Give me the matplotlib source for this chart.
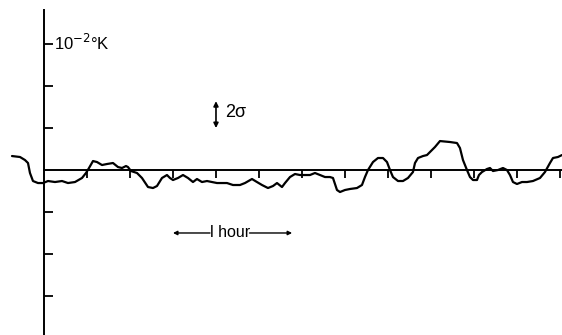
import matplotlib
matplotlib.use("Agg")
import matplotlib.pyplot as plt

plt.rcParams["font.family"] = ["Liberation Sans", "DejaVu Sans"]

# trace: time in tick intervals, deviation in tick units
t = [-0.744, -0.558, -0.442, -0.372, -0.326, -0.256, -0.140, -0.023, 0.093, 0.256,
     0.419, 0.558, 0.721, 0.884, 0.977, 1.047, 1.140, 1.233, 1.349, 1.465,
     1.605, 1.721, 1.814, 1.907, 1.953, 2.023, 2.163, 2.279, 2.419, 2.535,
     2.628, 2.744, 2.860, 2.930, 3.000, 3.116, 3.233, 3.349, 3.465, 3.558,
     3.674, 3.791, 3.907, 4.023, 4.256, 4.395, 4.558, 4.674, 4.837, 4.953,
     5.070, 5.209, 5.326, 5.419, 5.535, 5.605, 5.721, 5.837, 5.953, 6.186,
     6.302, 6.419, 6.535, 6.651, 6.721, 6.814, 6.884, 7.000, 7.116, 7.279,
     7.395, 7.465, 7.535, 7.651, 7.767, 7.884, 7.977, 8.047, 8.116, 8.233,
     8.349, 8.465, 8.581, 8.628, 8.698, 8.814, 8.907, 8.977, 9.093, 9.209,
     9.442, 9.605, 9.674, 9.744, 9.837, 9.907, 9.977, 10.070, 10.116, 10.186,
     10.302, 10.372, 10.442, 10.558, 10.674, 10.767, 10.837, 10.907, 11.000, 11.116,
     11.233, 11.372, 11.535, 11.651, 11.767, 11.837, 11.953, 12.047]
dT = [0.333, 0.310, 0.238, 0.167, -0.071, -0.262, -0.310, -0.310, -0.262, -0.286,
      -0.262, -0.310, -0.286, -0.190, -0.071, 0.048, 0.214, 0.190, 0.119, 0.143,
      0.167, 0.071, 0.048, 0.095, 0.071, -0.024, -0.071, -0.190, -0.405, -0.429,
      -0.381, -0.190, -0.119, -0.190, -0.238, -0.190, -0.119, -0.190, -0.286, -0.214,
      -0.286, -0.262, -0.286, -0.310, -0.310, -0.357, -0.357, -0.310, -0.214, -0.286,
      -0.357, -0.429, -0.381, -0.310, -0.405, -0.310, -0.167, -0.095, -0.119, -0.119,
      -0.071, -0.119, -0.167, -0.167, -0.190, -0.476, -0.524, -0.476, -0.452, -0.429,
      -0.357, -0.167, 0.000, 0.190, 0.286, 0.286, 0.190, 0.000, -0.167, -0.262,
      -0.262, -0.190, -0.048, 0.167, 0.286, 0.333, 0.357, 0.429, 0.548, 0.690,
      0.667, 0.643, 0.524, 0.238, 0.000, -0.167, -0.238, -0.238, -0.119, -0.048,
      0.024, 0.048, -0.024, 0.000, 0.048, 0.000, -0.119, -0.286, -0.333, -0.286,
      -0.286, -0.262, -0.190, -0.048, 0.167, 0.286, 0.310, 0.357]

x_ticks = list(range(1, 13))
y_ticks = [-3, -2, -1, 1, 2, 3]
unit_label = "10$^{-2}$°K"
sigma_label = "2σ"
hour_label = "l hour"

fig = plt.figure(figsize=(5.62, 3.35), dpi=100)
ax = fig.add_axes([0, 0, 1, 1])
ax.set_xlim(-1.023, 12.047)
ax.set_ylim(-3.93, 4.05)

ax.plot(t, dT, color="black", lw=1.6, solid_joinstyle="round", solid_capstyle="round")

# axes drawn as spines crossing at the origin
for side in ["top", "right"]:
    ax.spines[side].set_visible(False)
ax.spines["left"].set_position(("data", 0))
ax.spines["bottom"].set_position(("data", 0))
ax.spines["left"].set_bounds(-3.93, 3.81)
ax.spines["bottom"].set_bounds(0, 12.047)
ax.spines["left"].set_linewidth(1.4)
ax.spines["bottom"].set_linewidth(1.4)
ax.set_xticks(x_ticks)
ax.set_yticks(y_ticks)
ax.tick_params(axis="y", direction="in", length=6.5, width=1.3, labelleft=False)
ax.tick_params(axis="x", direction="out", length=5.5, width=1.3, labelbottom=False)

ax.text(0.23, 3.02, unit_label, fontsize=12, va="center", ha="left")

# 2 sigma scale bar
ax.annotate("", xy=(4.0, 1.0), xytext=(4.0, 1.64),
            arrowprops=dict(arrowstyle="<|-|>", color="black", lw=1.2,
                            mutation_scale=7, shrinkA=0, shrinkB=0))
ax.text(4.22, 1.36, sigma_label, fontsize=13, va="center", ha="left")

# one hour scale bar
ax.annotate("", xy=(3.0, -1.5), xytext=(3.86, -1.5),
            arrowprops=dict(arrowstyle="-|>", color="black", lw=1.0,
                            mutation_scale=6, shrinkA=0, shrinkB=0))
ax.annotate("", xy=(5.77, -1.5), xytext=(4.78, -1.5),
            arrowprops=dict(arrowstyle="-|>", color="black", lw=1.0,
                            mutation_scale=6, shrinkA=0, shrinkB=0))
ax.text(4.32, -1.5, hour_label, fontsize=11.5, va="center", ha="center")

fig.savefig("out.png", dpi=100)
